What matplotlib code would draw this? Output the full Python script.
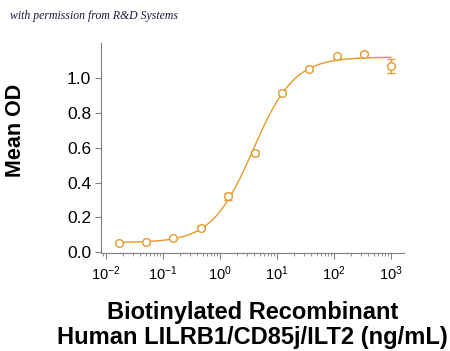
import numpy as np
import matplotlib
matplotlib.use("Agg")
import matplotlib.pyplot as plt
from matplotlib.ticker import LogLocator, FixedLocator

plt.rcParams['font.family'] = ['Liberation Sans', 'DejaVu Sans']

# 3-fold serial dilution from 1000 ng/mL
conc = [0.0169, 0.0508, 0.152, 0.457, 1.37, 4.12, 12.3, 37.0, 111.0, 333.0, 1000.0]
mean_od = [0.055, 0.060, 0.080, 0.140, 0.320, 0.570, 0.915, 1.050, 1.125, 1.140, 1.070]
sd_od = [0.005, 0.005, 0.006, 0.012, 0.020, 0.012, 0.008, 0.008, 0.008, 0.008, 0.040]

# 4PL fit parameters (estimated from the curve)
fit_bottom = 0.055
fit_top = 1.12
fit_ec50 = 3.8
fit_hill = 1.2

orange = '#E39B2B'

fig = plt.figure(figsize=(4.5, 3.51), dpi=100)
ax = fig.add_axes([0.224, 0.279, 0.674, 0.598])

xs = np.logspace(np.log10(conc[0]), np.log10(conc[-1]), 300)
ys = fit_bottom + (fit_top - fit_bottom) / (1 + (fit_ec50 / xs) ** fit_hill)
ax.plot(xs, ys, color=orange, lw=1.0)

ax.errorbar(conc, mean_od, yerr=sd_od, fmt='o', mfc='white', mec=orange,
            ecolor=orange, ms=5.5, mew=1.0, elinewidth=1.0, capsize=3, capthick=1.0)

ax.set_xscale('log')
ax.set_xlim(10 ** -2.09, 10 ** 3.23)
ax.set_ylim(-0.005, 1.2)
ax.xaxis.set_major_locator(FixedLocator([1e-2, 1e-1, 1e0, 1e1, 1e2, 1e3]))
ax.xaxis.set_minor_locator(LogLocator(base=10, subs=np.arange(2, 10), numticks=20))
ax.set_xticklabels(['$\\mathregular{10^{-2}}$', '$\\mathregular{10^{-1}}$', '$\\mathregular{10^{0}}$',
                    '$\\mathregular{10^{1}}$', '$\\mathregular{10^{2}}$', '$\\mathregular{10^{3}}$'])
ax.set_yticks([0.0, 0.2, 0.4, 0.6, 0.8, 1.0])
ax.set_yticklabels(['0.0', '0.2', '0.4', '0.6', '0.8', '1.0'])

for s in ['top', 'right']:
    ax.spines[s].set_visible(False)
for s in ['left', 'bottom']:
    ax.spines[s].set_color('#808080')
    ax.spines[s].set_linewidth(0.8)

ax.tick_params(axis='x', which='major', length=4, color='#808080', labelsize=10.5, pad=4)
ax.tick_params(axis='x', which='minor', length=2, color='#808080')
ax.tick_params(axis='y', which='major', length=4, color='#808080', labelsize=12.5, pad=3)

ax.set_ylabel('Mean OD', fontsize=15.5, fontweight='bold')
ax.yaxis.set_label_coords(-0.245, 0.585)
ax.set_xlabel('Biotinylated Recombinant\nHuman LILRB1/CD85j/ILT2 (ng/mL)', fontsize=17,
              fontweight='bold', linespacing=1.12)
ax.xaxis.set_label_coords(0.5, -0.228)

fig.text(0.022, 0.955, 'with permission from R&D Systems', fontsize=8.5, style='italic',
         family='Liberation Serif', color='#1a1a3a', va='center')

fig.savefig('out.png', dpi=100)
